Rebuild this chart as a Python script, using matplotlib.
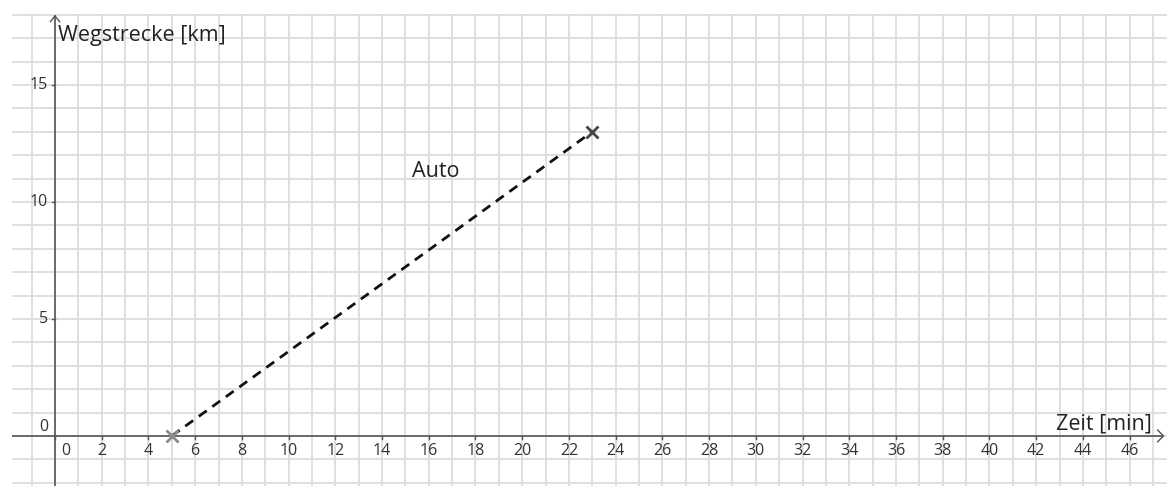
import numpy as np
import matplotlib.pyplot as plt

# data
zeit = [5, 23]          # min
weg = [0, 13]           # km
x_ticks = list(range(0, 47, 2))
y_ticks = [5, 10, 15]

plt.rcParams['font.family'] = ['Open Sans', 'DejaVu Sans']

fig = plt.figure(figsize=(11.74, 4.86), dpi=100)
ax = fig.add_axes([12 / 1174, 0, 1155 / 1174, 472 / 486])
ax.set_xlim(-1.84, 47.6)
ax.set_ylim(-2.14, 18.03)

# grid every unit
for gx in range(-1, 48):
    ax.axvline(gx, color='#dcdcdc', lw=1.3, zorder=0)
for gy in range(-2, 19):
    ax.axhline(gy, color='#dcdcdc', lw=1.3, zorder=0)

for s in ax.spines.values():
    s.set_visible(False)
ax.set_xticks([])
ax.set_yticks([])

axc = '#555555'
# axes with arrows
ax.plot([-1.84, 47.45], [0, 0], color=axc, lw=1.2, zorder=2)
ax.plot([0, 0], [-2.14, 17.95], color=axc, lw=1.2, zorder=2)
ax.plot([47.2, 47.45, 47.2], [0.25, 0, -0.25], color=axc, lw=1.0, zorder=2)
ax.plot([-0.2, 0, 0.2], [17.7, 17.95, 17.7], color=axc, lw=1.0, zorder=2)

# ticks and labels
for t in x_ticks:
    ax.plot([t, t], [0, -0.12], color=axc, lw=1.0, zorder=2)
    ax.text(t + (0.45 if t == 0 else 0), -0.65, str(t), ha='center', va='center',
            fontsize=11.5, color='#333333')
for t in y_ticks:
    ax.plot([-0.12, 0], [t, t], color=axc, lw=1.0, zorder=2)
    ax.text(-0.3, t, str(t), ha='right', va='center', fontsize=11.5, color='#333333')
ax.text(-0.3, 0.4, '0', ha='right', va='center', fontsize=11.5, color='#333333')

ax.text(0.15, 17.1, 'Wegstrecke [km]', ha='left', va='center', fontsize=15.5, color='#222222')
ax.text(46.95, 0.5, 'Zeit [min]', ha='right', va='center', fontsize=15.5, color='#222222')

# Auto line
ax.plot(zeit, weg, color='#111111', lw=2, ls=(0, (3.5, 2.5)), zorder=3)
ax.plot(zeit[0], weg[0], marker='x', ms=9, mew=2, color='#8c8c8c', zorder=4)
ax.plot(zeit[1], weg[1], marker='x', ms=9, mew=2, color='#444444', zorder=4)
ax.text(15.3, 11.3, 'Auto', ha='left', va='center', fontsize=15.5, color='#222222')

fig.savefig('out.png', dpi=100)
